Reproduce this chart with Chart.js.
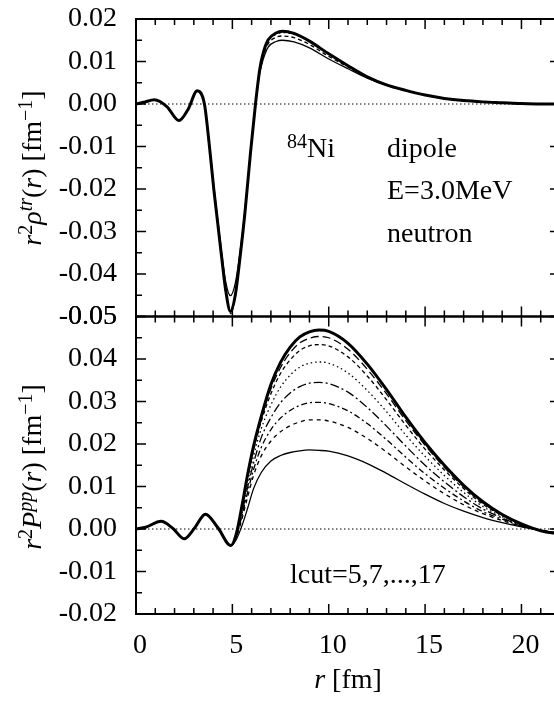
<!DOCTYPE html>
<html>
<head>
<meta charset="utf-8">
<script src="https://cdn.jsdelivr.net/npm/chart.js@4.4.0/dist/chart.umd.min.js"></script>
<style>
  html, body { margin: 0; padding: 0; background: #fff; overflow: hidden; }
  #wrap { position: relative; width: 554px; height: 708px; overflow: hidden; }
  #bot { position: absolute; left: 0; top: 300px; }
  #top { position: absolute; left: 0; top: 0; }
</style>
</head>
<body>
<div id="wrap">
  <canvas id="bot" width="562" height="408"></canvas>
  <canvas id="top" width="562" height="330"></canvas>
</div>
<script>
// ---- data ----
const xTicks = [0, 5, 10, 15, 20];
const xLabels = ['0', '5', '10', '15', '20'];
const yTicksTop = [-0.05, -0.04, -0.03, -0.02, -0.01, 0, 0.01, 0.02];
const yLabelsTop = ['-0.05', '-0.04', '-0.03', '-0.02', '-0.01', '0.00', '0.01', '0.02'];
const yTicksBot = [-0.02, -0.01, 0, 0.01, 0.02, 0.03, 0.04, 0.05];
const yLabelsBot = ['-0.02', '-0.01', '0.00', '0.01', '0.02', '0.03', '0.04', '0.05'];

// transition density r^2 rho^tr(r), top panel
const rTop = [0, 0.4, 0.95, 1.6, 2.23, 2.7, 3.18, 3.55, 3.8, 4.04, 4.44, 4.66, 4.9, 5.15, 5.4, 5.65, 5.94, 6.2,
  6.42, 6.6, 6.86, 7.27, 7.6, 8.2, 9, 10, 11, 12, 13, 14, 15, 16, 17, 18, 19, 20, 21, 22];
const rhoFull = [0, 0.0004, 0.0010, -0.0006, -0.0039, -0.0013, 0.0031, 0.0000, -0.0095, -0.0202, -0.0359, -0.0440,
  -0.0488, -0.0450, -0.0360, -0.0257, -0.0115, 0.0000, 0.0081, 0.0120, 0.0151, 0.0167, 0.0171, 0.0166, 0.0148,
  0.0118, 0.0090, 0.0064, 0.0045, 0.0032, 0.0021, 0.0013, 0.0008, 0.0005, 0.0003, 0.0001, 0.0000, 0.0000];
const rho9 = [0, 0.0004, 0.0010, -0.0006, -0.0039, -0.0013, 0.0031, 0.0000, -0.0096, -0.0203, -0.0361, -0.0445,
  -0.0493, -0.0455, -0.0362, -0.0258, -0.0115, 0.0000, 0.0080, 0.0118, 0.0149, 0.0164, 0.0168, 0.0164, 0.0147,
  0.0117, 0.0090, 0.0064, 0.0045, 0.0032, 0.0021, 0.0013, 0.0008, 0.0005, 0.0003, 0.0001, 0.0000, 0.0000];
const rho7 = [0, 0.0004, 0.0010, -0.0006, -0.0039, -0.0013, 0.0031, 0.0000, -0.0094, -0.0200, -0.0356, -0.0438,
  -0.0486, -0.0448, -0.0358, -0.0255, -0.0115, -0.0001, 0.0077, 0.0113, 0.0142, 0.0157, 0.0160, 0.0156, 0.0140,
  0.0112, 0.0087, 0.0063, 0.0045, 0.0032, 0.0021, 0.0013, 0.0008, 0.0005, 0.0003, 0.0001, 0.0000, 0.0000];
const rho5 = [0, 0.0004, 0.0010, -0.0006, -0.0039, -0.0013, 0.0030, 0.0000, -0.0092, -0.0195, -0.0348, -0.0420,
  -0.0451, -0.0422, -0.0348, -0.0250, -0.0115, -0.0003, 0.0072, 0.0105, 0.0134, 0.0147, 0.0150, 0.0146, 0.0132,
  0.0106, 0.0083, 0.0061, 0.0044, 0.0031, 0.0021, 0.0013, 0.0008, 0.0005, 0.0003, 0.0001, 0.0000, 0.0000];

// pair density r^2 P^pp(r), bottom panel: common inner part + lcut-dependent outer part
const rInner = [0, 0.5, 1.3, 1.9, 2.5, 3.05, 3.6, 4.25, 4.92];
const ppInner = [0, 0.0004, 0.0018, 0.0002, -0.0023, 0.0003, 0.0035, 0.0003, -0.0039];
const rOuter = [5.2, 5.5, 5.8, 6.1, 6.5, 7, 7.5, 8, 8.5, 9, 9.5, 10, 11, 12, 13, 14, 15, 16, 17, 18, 19, 20, 21, 22];
const ppFull = [-0.0012, 0.0055, 0.0130, 0.0195, 0.0265, 0.0340, 0.0392, 0.0428, 0.0452, 0.0464, 0.0468, 0.0465,
  0.0437, 0.0388, 0.0328, 0.0263, 0.0203, 0.0150, 0.0103, 0.0064, 0.0034, 0.0012, -0.0004, -0.0012];
const pp17 = [-0.0012, 0.0053, 0.0127, 0.0191, 0.0260, 0.0330, 0.0380, 0.0415, 0.0438, 0.0449, 0.0453, 0.0450,
  0.0423, 0.0376, 0.0318, 0.0255, 0.0197, 0.0145, 0.0099, 0.0061, 0.0033, 0.0011, -0.0004, -0.0012];
const pp15 = [-0.0013, 0.0050, 0.0122, 0.0185, 0.0253, 0.0318, 0.0366, 0.0398, 0.0420, 0.0431, 0.0434, 0.0431,
  0.0405, 0.0360, 0.0304, 0.0244, 0.0188, 0.0139, 0.0095, 0.0058, 0.0032, 0.0010, -0.0004, -0.0012];
const pp13 = [-0.0015, 0.0044, 0.0111, 0.0172, 0.0236, 0.0292, 0.0334, 0.0362, 0.0381, 0.0390, 0.0393, 0.0390,
  0.0367, 0.0326, 0.0276, 0.0221, 0.0171, 0.0126, 0.0086, 0.0053, 0.0029, 0.0009, -0.0004, -0.0011];
const pp11 = [-0.0016, 0.0037, 0.0100, 0.0155, 0.0215, 0.0262, 0.0297, 0.0320, 0.0335, 0.0343, 0.0345, 0.0342,
  0.0322, 0.0286, 0.0242, 0.0195, 0.0150, 0.0111, 0.0076, 0.0047, 0.0026, 0.0008, -0.0004, -0.0011];
const pp9 = [-0.0018, 0.0031, 0.0088, 0.0140, 0.0192, 0.0234, 0.0261, 0.0279, 0.0291, 0.0297, 0.0298, 0.0295,
  0.0278, 0.0248, 0.0210, 0.0169, 0.0130, 0.0096, 0.0066, 0.0041, 0.0023, 0.0007, -0.0003, -0.0010];
const pp7 = [-0.0020, 0.0024, 0.0077, 0.0126, 0.0172, 0.0207, 0.0229, 0.0243, 0.0252, 0.0257, 0.0257, 0.0254,
  0.0239, 0.0213, 0.0181, 0.0146, 0.0113, 0.0083, 0.0057, 0.0036, 0.0020, 0.0006, -0.0003, -0.0010];
const pp5 = [-0.0025, 0.0008, 0.0050, 0.0095, 0.0133, 0.0160, 0.0173, 0.0180, 0.0184, 0.0186, 0.0185, 0.0183,
  0.0172, 0.0154, 0.0131, 0.0106, 0.0082, 0.0060, 0.0042, 0.0027, 0.0015, 0.0005, -0.0003, -0.0010];

// ---- helpers ----
const FONT = '"Liberation Serif", "Times New Roman", serif';

function pts(xs, ys) {
  return xs.map((x, i) => ({ x: x, y: ys[i] }));
}
function ppPts(outer) {
  return pts(rInner.concat(rOuter), ppInner.concat(outer));
}

function line(data, width, dash) {
  return {
    data: data,
    borderColor: '#000',
    borderWidth: width,
    borderDash: dash || [],
    pointRadius: 0,
    fill: false,
    cubicInterpolationMode: 'monotone'
  };
}

function fontFor(p) {
  return (p.i ? 'italic ' : '') + (p.sup ? 20 : 28) + 'px ' + FONT;
}

// draws a run of text pieces (italic / superscript) one after another
function drawRich(ctx, parts, x, y, align, rotate) {
  ctx.save();
  ctx.translate(x, y);
  if (rotate) ctx.rotate(-Math.PI / 2);
  ctx.fillStyle = '#000';
  ctx.textBaseline = 'alphabetic';
  ctx.textAlign = 'left';
  let w = 0;
  parts.forEach(p => { ctx.font = fontFor(p); w += ctx.measureText(p.t).width; });
  let cx = align === 'center' ? -w / 2 : 0;
  parts.forEach(p => {
    ctx.font = fontFor(p);
    ctx.fillText(p.t, cx, p.sup ? -9 : 0);
    cx += ctx.measureText(p.t).width;
  });
  ctx.restore();
}

// dotted zero line, frame and inward ticks on all four sides
function framePlugin(extra) {
  return {
    id: 'frame',
    beforeDatasetsDraw(chart) {
      const { ctx, chartArea: a, scales: { y } } = chart;
      const y0 = y.getPixelForValue(0);
      ctx.save();
      ctx.strokeStyle = '#000';
      ctx.lineWidth = 1;
      ctx.setLineDash([1.5, 2.5]);
      ctx.beginPath();
      ctx.moveTo(a.left, y0);
      ctx.lineTo(a.right, y0);
      ctx.stroke();
      ctx.restore();
    },
    afterDatasetsDraw(chart) {
      const { ctx, chartArea: a, scales: { x, y } } = chart;
      ctx.save();
      ctx.strokeStyle = '#000';
      ctx.lineWidth = 1.5;
      ctx.beginPath();
      for (let i = 0; i <= 22; i++) {
        const px = x.getPixelForValue(i);
        const L = i % 5 === 0 ? 10 : 6;
        ctx.moveTo(px, a.top); ctx.lineTo(px, a.top + L);
        ctx.moveTo(px, a.bottom); ctx.lineTo(px, a.bottom - L);
      }
      for (let i = 0; i <= 14; i++) {
        const py = y.getPixelForValue(y.min + i * 0.005);
        const L = i % 2 === 0 ? 10 : 6;
        ctx.moveTo(a.left, py); ctx.lineTo(a.left + L, py);
        ctx.moveTo(a.right, py); ctx.lineTo(a.right - L, py);
      }
      ctx.stroke();
      ctx.lineWidth = 2;
      ctx.strokeRect(a.left, a.top, a.right - a.left, a.bottom - a.top);
      ctx.restore();
      extra(ctx);
    }
  };
}

function yScale(min, max, ticks, labels) {
  return {
    min: min,
    max: max,
    afterFit(s) {
      s.width = 136;
      s.paddingTop = 0;
      s.paddingBottom = 0;
    },
    afterBuildTicks(s) { s.ticks = ticks.map(v => ({ value: v })); },
    ticks: {
      callback: (v, i) => labels[i],
      font: { family: FONT, size: 28 },
      color: '#000',
      padding: 19,
      autoSkip: false
    },
    grid: { display: false, drawTicks: false },
    border: { display: false }
  };
}

// ---- top panel ----
new Chart(document.getElementById('top'), {
  type: 'line',
  data: {
    datasets: [
      line(pts(rTop, rhoFull), 3),
      line(pts(rTop, rho9), 1.3, [2, 3]),
      line(pts(rTop, rho7), 1.3, [4, 3]),
      line(pts(rTop, rho5), 1.3)
    ]
  },
  options: {
    responsive: false,
    animation: false,
    layout: { padding: { top: 19, bottom: 13.5, left: 0, right: 2 } },
    plugins: { legend: { display: false }, tooltip: { enabled: false } },
    scales: {
      x: { type: 'linear', min: 0, max: 22, display: false },
      y: yScale(-0.05, 0.02, yTicksTop, yLabelsTop)
    }
  },
  plugins: [framePlugin(ctx => {
    drawRich(ctx, [{ t: 'r', i: true }, { t: '2', sup: true }, { t: 'ρ', i: true }, { t: 'tr', i: true, sup: true },
      { t: '(' }, { t: 'r', i: true }, { t: ') [fm' }, { t: '−1', sup: true }, { t: ']' }], 41, 168, 'center', true);
    drawRich(ctx, [{ t: '84', sup: true }, { t: 'Ni' }], 287, 157, 'left');
    drawRich(ctx, [{ t: 'dipole' }], 387, 157, 'left');
    drawRich(ctx, [{ t: 'E=3.0MeV' }], 387, 199, 'left');
    drawRich(ctx, [{ t: 'neutron' }], 387, 241.5, 'left');
  })]
});

// ---- bottom panel ----
new Chart(document.getElementById('bot'), {
  type: 'line',
  data: {
    datasets: [
      line(ppPts(ppFull), 3),
      line(ppPts(pp17), 1.3, [8, 4]),
      line(ppPts(pp15), 1.3, [4, 3]),
      line(ppPts(pp13), 1.3, [1.5, 3]),
      line(ppPts(pp11), 1.3, [9, 3, 2, 3]),
      line(ppPts(pp9), 1.3, [6, 3, 2, 3]),
      line(ppPts(pp7), 1.3, [4, 4]),
      line(ppPts(pp5), 1.3)
    ]
  },
  options: {
    responsive: false,
    animation: false,
    layout: { padding: { top: 16.5, bottom: 0, left: 0, right: 2 } },
    plugins: { legend: { display: false }, tooltip: { enabled: false } },
    scales: {
      x: {
        type: 'linear',
        min: 0,
        max: 22,
        afterFit(s) { s.height = 94; },
        afterBuildTicks(s) { s.ticks = xTicks.map(v => ({ value: v })); },
        ticks: {
          callback: (v, i) => xLabels[i],
          font: { family: FONT, size: 28 },
          color: '#000',
          padding: 15,
          labelOffset: 4,
          maxRotation: 0,
          autoSkip: false
        },
        grid: { display: false, drawTicks: false },
        border: { display: false }
      },
      y: yScale(-0.02, 0.05, yTicksBot, yLabelsBot)
    }
  },
  plugins: [framePlugin(ctx => {
    drawRich(ctx, [{ t: 'r', i: true }, { t: '2', sup: true }, { t: 'P', i: true }, { t: 'pp', i: true, sup: true },
      { t: '(' }, { t: 'r', i: true }, { t: ') [fm' }, { t: '−1', sup: true }, { t: ']' }], 41, 167, 'center', true);
    drawRich(ctx, [{ t: 'lcut=5,7,...,17' }], 290, 282.5, 'left');
    drawRich(ctx, [{ t: 'r', i: true }, { t: ' [fm]' }], 348, 388, 'center');
  })]
});
</script>
</body>
</html>
